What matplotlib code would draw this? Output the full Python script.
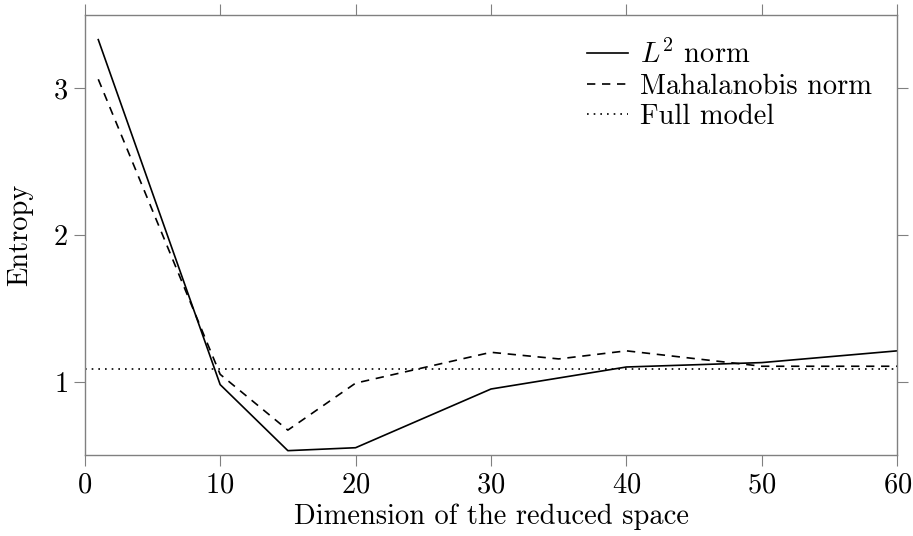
import matplotlib
matplotlib.use("Agg")
import matplotlib.pyplot as plt

plt.rcParams["font.family"] = "serif"
plt.rcParams["font.serif"] = ["cmr10"]
plt.rcParams["mathtext.fontset"] = "cm"
plt.rcParams["axes.formatter.use_mathtext"] = True

# Entropy versus dimension of the reduced space
dims_l2 = [1, 10, 15, 20, 30, 40, 50, 60]
entropy_l2 = [3.33, 0.98, 0.53, 0.55, 0.95, 1.10, 1.13, 1.21]

dims_mahal = [1, 10, 15, 20, 30, 35, 40, 50, 60]
entropy_mahal = [3.06, 1.05, 0.67, 0.99, 1.20, 1.155, 1.21, 1.105, 1.105]

full_model_entropy = 1.085

xticks = [0, 10, 20, 30, 40, 50, 60]
yticks = [1, 2, 3]

fig = plt.figure(figsize=(9.13, 5.36), dpi=100)
ax = fig.add_axes([0.0928, 0.151, 0.8900, 0.8216])

ax.plot(dims_l2, entropy_l2, color="black", lw=1.2, ls="-", label=r"$L^2$ norm")
ax.plot(dims_mahal, entropy_mahal, color="black", lw=1.2, ls=(0, (5, 4)),
        label="Mahalanobis norm")
ax.axhline(full_model_entropy, color="black", lw=1.2, ls=(0, (1, 3)),
           label="Full model")

ax.set_xlim(0, 60)
ax.set_ylim(0.5, 3.5)
ax.set_xticks(xticks)
ax.set_yticks(yticks)

for s in ax.spines.values():
    s.set_color("#808080")
    s.set_linewidth(1.0)
ax.tick_params(axis="both", which="both", direction="out", length=8,
               width=0.8, color="#808080", labelsize=20.5, pad=4,
               top=True, right=True, labeltop=False, labelright=False)

ax.set_xlabel("Dimension of the reduced space", fontsize=20.5, labelpad=4)
ax.set_ylabel("Entropy", fontsize=20.5, labelpad=14)

leg = ax.legend(loc="upper right", frameon=False, fontsize=20.5,
                handlelength=1.45, handletextpad=0.4, labelspacing=0.15,
                borderaxespad=0.5)

fig.savefig("out.png", dpi=100)
